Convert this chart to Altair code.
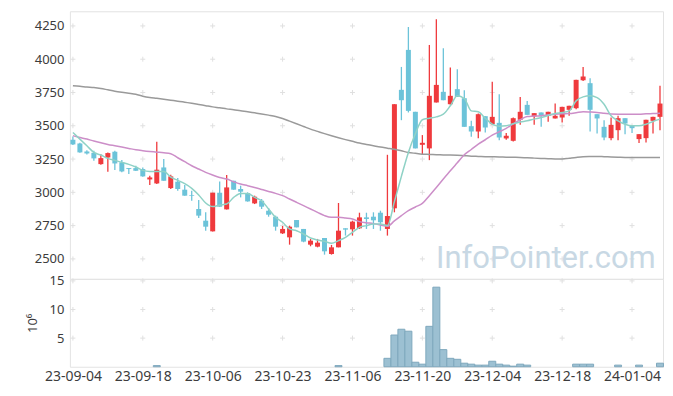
import altair as alt
import pandas as pd

# ---------------- data ----------------
opens = [3395, 3367, 3307, 3297, 3212, 3262, 3305, 3225, 3182, 3182,
         3175, 3097, 3067, 3187, 3032, 3080, 3020, 2980, 2875, 2787,
         2707, 2997, 2872, 3087, 3025, 2995, 2917, 2937, 2862, 2817,
         2692, 2662, 2792, 2725, 2607, 2592, 2657, 2537, 2587, 2730,
         2722, 2730, 2812, 2817, 2847, 2725, 2880, 3770, 4070, 3605,
         3357, 3330, 3675, 3755, 3662, 3775, 3707, 3497, 3457, 3572,
         3512, 3522, 3405, 3387, 3545, 3657, 3570, 3600, 3575, 3555,
         3562, 3620, 3632, 3842, 3820, 3587, 3492, 3407, 3467, 3557,
         3500, 3400, 3407, 3537, 3567]
closes = [3360, 3300, 3292, 3255, 3257, 3295, 3217, 3157, 3175, 3162,
          3120, 3112, 3170, 3087, 3120, 3025, 2975, 2975, 2825, 2742,
          2997, 2892, 3037, 3020, 3005, 2932, 2967, 2892, 2832, 2742,
          2725, 2742, 2737, 2630, 2637, 2622, 2557, 2587, 2712, 2720,
          2780, 2812, 2800, 2790, 2775, 2822, 3662, 3692, 3612, 3330,
          3372, 3725, 3807, 3692, 3725, 3717, 3492, 3457, 3587, 3487,
          3567, 3412, 3425, 3557, 3605, 3582, 3595, 3575, 3605, 3575,
          3642, 3650, 3845, 3870, 3620, 3555, 3412, 3507, 3557, 3517,
          3482, 3437, 3545, 3567, 3667]
highs = [3420, 3372, 3317, 3312, 3287, 3300, 3312, 3242, 3182, 3200,
         3187, 3125, 3380, 3250, 3132, 3107, 3055, 3012, 2942, 2850,
         2997, 3082, 3130, 3087, 3050, 3000, 2975, 2950, 2882, 2825,
         2747, 2750, 2792, 2725, 2650, 2650, 2657, 2605, 2920, 2730,
         2787, 2847, 2847, 2850, 2862, 3282, 3662, 3942, 4242, 3605,
         3430, 4107, 4300, 4082, 3937, 3925, 3767, 3537, 3592, 3572,
         3830, 3737, 3445, 3562, 3717, 3687, 3595, 3600, 3605, 3667,
         3642, 3650, 3845, 3942, 3857, 3587, 3542, 3562, 3575, 3557,
         3500, 3437, 3545, 3567, 3800]
lows = [3355, 3297, 3285, 3237, 3207, 3155, 3167, 3150, 3137, 3160,
        3117, 3055, 3062, 3087, 3025, 3012, 2975, 2937, 2807, 2712,
        2705, 2892, 2872, 3020, 2962, 2930, 2912, 2875, 2817, 2712,
        2687, 2607, 2737, 2625, 2595, 2587, 2532, 2532, 2587, 2675,
        2675, 2725, 2725, 2725, 2712, 2675, 2850, 3542, 3600, 3330,
        3287, 3242, 3675, 3692, 3657, 3717, 3492, 3417, 3407, 3450,
        3507, 3392, 3395, 3382, 3507, 3582, 3507, 3492, 3530, 3555,
        3525, 3575, 3625, 3837, 3457, 3442, 3392, 3392, 3392, 3437,
        3445, 3370, 3375, 3442, 3467]
# millions of shares; 0 = too small to see in the reference
volumes = [0, 0, 0, 0, 0, 0, 0, 0, 0, 0,
           0, 0, 0.2, 0, 0, 0, 0, 0, 0, 0,
           0, 0, 0, 0, 0, 0, 0, 0, 0, 0,
           0, 0, 0, 0, 0, 0, 0, 0, 0.2, 0,
           0, 0, 0, 0, 0, 1.47, 5.54, 6.55, 6.21, 0.79,
           0.45, 7.06, 13.9, 2.99, 1.47, 1.3, 0.62, 0.45, 0.28, 0.28,
           0.96, 0.45, 0.28, 0.1, 0.45, 0.28, 0, 0, 0, 0,
           0, 0, 0.45, 0.45, 0.45, 0, 0, 0, 0.28, 0,
           0, 0.28, 0, 0, 0.62]
ma5 = [3450, 3400, 3350, 3300, 3280, 3255, 3240, 3225, 3210, 3190,
       3165, 3157, 3157, 3157, 3115, 3090, 3065, 3030, 2980, 2920,
       2893, 2905, 2912, 2962, 2992, 2992, 2962, 2937, 2875, 2812,
       2775, 2725, 2712, 2687, 2657, 2642, 2632, 2617, 2637, 2662,
       2700, 2737, 2750, 2762, 2762, 2750, 2930, 3120, 3300, 3440,
       3545, 3557, 3567, 3587, 3650, 3725, 3705, 3612, 3605, 3557,
       3512, 3497, 3500, 3515, 3528, 3537, 3550, 3562, 3577, 3592,
       3600, 3612, 3687, 3717, 3725, 3712, 3662, 3575, 3537, 3512,
       3500, 3500, 3512, 3532, 3550]
ma20 = [3425, 3412, 3400, 3385, 3372, 3360, 3350, 3340, 3330, 3320,
        3313, 3307, 3302, 3297, 3290, 3260, 3230, 3200, 3175, 3150,
        3130, 3112, 3100, 3080, 3062, 3050, 3037, 3022, 3007, 2992,
        2975, 2950, 2925, 2900, 2875, 2850, 2825, 2812, 2812, 2807,
        2800, 2780, 2772, 2765, 2755, 2745, 2785, 2825, 2862, 2890,
        2917, 2975, 3037, 3100, 3162, 3222, 3282, 3322, 3362, 3395,
        3430, 3455, 3480, 3515, 3545, 3570, 3573, 3576, 3582, 3587,
        3590, 3592, 3598, 3605, 3603, 3600, 3594, 3588, 3587, 3587,
        3587, 3587, 3590, 3592, 3595]
ma60 = [3800, 3796, 3791, 3787, 3780, 3770, 3760, 3752, 3745, 3737,
        3722, 3712, 3706, 3699, 3692, 3685, 3677, 3669, 3660, 3651,
        3642, 3635, 3627, 3620, 3612, 3605, 3597, 3589, 3580, 3570,
        3555, 3535, 3515, 3495, 3475, 3458, 3441, 3425, 3410, 3396,
        3383, 3370, 3360, 3350, 3340, 3332, 3324, 3312, 3300, 3293,
        3287, 3285, 3283, 3281, 3280, 3278, 3275, 3272, 3270, 3268,
        3267, 3266, 3264, 3263, 3262, 3259, 3257, 3255, 3253, 3251,
        3250, 3256, 3262, 3267, 3269, 3270, 3268, 3266, 3264, 3262,
        3262, 3262, 3262, 3262, 3262]

tick_positions = [0, 10, 20, 30, 40, 50, 60, 70, 80]
tick_labels = ["23-09-04", "23-09-18", "23-10-06", "23-10-23", "23-11-06",
               "23-11-20", "23-12-04", "23-12-18", "24-01-04"]
price_ticks = [2500, 2750, 3000, 3250, 3500, 3750, 4000, 4250]
volume_ticks = [5, 10, 15]
watermark = "InfoPointer.com"

# ---------------- styling ----------------
RED = "#ef3a3d"
BLUE = "#6cc3d9"
FONT = "Noto Sans"
LABEL_COLOR = "#3c3c3c"
W, H_PRICE, H_VOL = 594, 268, 88

n = len(opens)
df = pd.DataFrame({
    "idx": list(range(n)),
    "open": opens, "close": closes, "high": highs, "low": lows,
    "vol": volumes, "ma5": ma5, "ma20": ma20, "ma60": ma60,
})
df["dir"] = ["up" if c >= o else "down" for o, c in zip(opens, closes)]

xscale = alt.Scale(domain=[-0.4286, 84.43], nice=False, zero=False, padding=0)
pscale = alt.Scale(domain=[2350, 4360], nice=False, zero=False, padding=0)
vscale = alt.Scale(domain=[0, 15.35], nice=False, padding=0)
cscale = alt.Scale(domain=["up", "down"], range=[RED, BLUE])

price_axis = alt.Axis(values=price_ticks, title=None, grid=False,
                      format="d", labelOverlap=False)
vol_axis = alt.Axis(values=volume_ticks, title="10⁶", grid=False,
                    titlePadding=10, labelOverlap=False)
label_expr = "[" + ",".join("'%s'" % s for s in tick_labels) + "][datum.value / 10]"
x_axis = alt.Axis(values=tick_positions, labelExpr=label_expr, title=None,
                  grid=False, labelPadding=3, labelFlush=False, labelOverlap=False,
                  labelFontSize=14)

base = alt.Chart(df)
X = alt.X("idx:Q", scale=xscale, axis=None)


def PY(field):
    return alt.Y(field, scale=pscale, axis=price_axis)


grid_price = pd.DataFrame([(i, p) for i in tick_positions for p in price_ticks],
                          columns=["idx", "p"])
grid_vol = pd.DataFrame([(i, v) for i in tick_positions for v in volume_ticks],
                        columns=["idx", "v"])
PLUS = "M-1,0H1M0,-1V1"

price_grid = alt.Chart(grid_price).mark_point(
    shape=PLUS, size=25, filled=False, stroke="#e0e0e0", strokeWidth=1, opacity=1
).encode(x=X, y=PY("p:Q"))

wicks = base.mark_rule(strokeWidth=1.3).encode(
    x=X, y=PY("low:Q"), y2="high:Q",
    color=alt.Color("dir:N", scale=cscale, legend=None),
)
bodies = base.mark_bar(size=5).encode(
    x=X, y=PY("open:Q"), y2="close:Q",
    color=alt.Color("dir:N", scale=cscale, legend=None),
)
line60 = base.mark_line(color="#9a9a9a", strokeWidth=1.5, interpolate="monotone").encode(
    x=X, y=PY("ma60:Q"))
line20 = base.mark_line(color="#cc8ec8", strokeWidth=1.5, interpolate="monotone").encode(
    x=X, y=PY("ma20:Q"))
line5 = base.mark_line(color="#8fd2c6", strokeWidth=1.5, interpolate="monotone").encode(
    x=X, y=PY("ma5:Q"))

wm = alt.Chart(alt.Data(values=[{"t": watermark}])).mark_text(
    font="Roboto", fontSize=31, color="#c8d8e4",
    align="center", baseline="alphabetic",
).encode(text="t:N", x=alt.value(476.7), y=alt.value(256.7))

price = alt.layer(price_grid, wm, wicks, bodies, line60, line20, line5).properties(
    width=W, height=H_PRICE)

XV = alt.X("idx:Q", scale=xscale, axis=x_axis)
vol_grid = alt.Chart(grid_vol).mark_point(
    shape=PLUS, size=25, filled=False, stroke="#e0e0e0", strokeWidth=1, opacity=1
).encode(x=XV, y=alt.Y("v:Q", scale=vscale, axis=vol_axis))

vol_bars = base.transform_filter("datum.vol > 0").mark_bar(
    size=7, color="#9cc0d2", stroke="#7ea8bd", strokeWidth=1
).encode(
    x=XV,
    y=alt.Y("vol:Q", scale=vscale, axis=vol_axis),
)
volume = alt.layer(vol_grid, vol_bars).properties(width=W, height=H_VOL)

chart = alt.vconcat(price, volume, spacing=0, bounds="flush").properties(
    padding={"left": 17, "top": 2, "right": 0, "bottom": 0},
    background="white",
).configure_view(stroke="#e3e3e3", strokeWidth=1).configure_axis(
    domain=False, ticks=False, grid=False,
    labelFont=FONT, labelFontSize=13, labelColor=LABEL_COLOR, labelPadding=6,
    titleFont=FONT, titleFontSize=13, titleFontWeight="normal", titleColor=LABEL_COLOR,
)

chart.save("out.html", embed_options={"renderer": "svg", "actions": False})
